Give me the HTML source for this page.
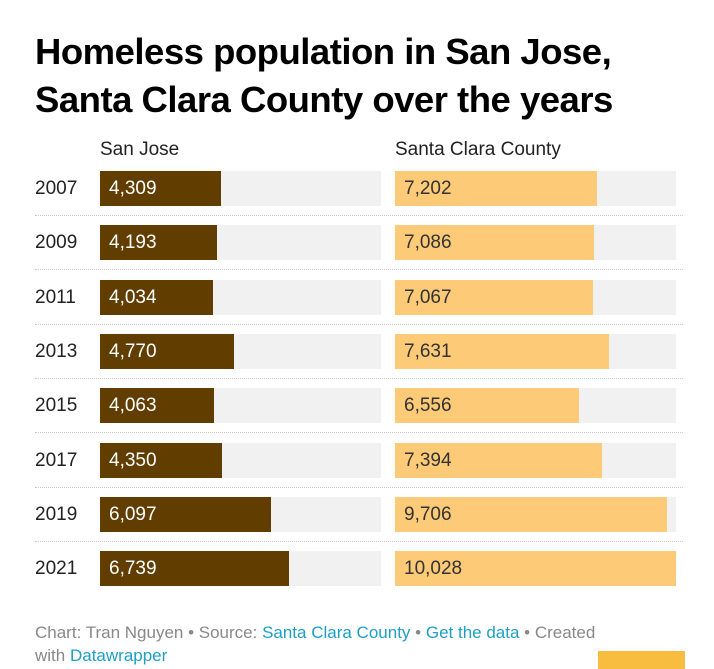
<!DOCTYPE html>
<html><head><meta charset="utf-8"><style>
body{margin:0;width:714px;height:669px;background:#fff;font-family:"Liberation Sans",sans-serif;position:relative;overflow:hidden}
#title{position:absolute;left:35px;top:28px;font-size:36.5px;font-weight:bold;line-height:48px;color:#000;letter-spacing:-0.5px;white-space:nowrap}
.hdr{position:absolute;top:139px;font-size:19px;color:#222}
.yr{position:absolute;left:35px;font-size:19px;color:#222;line-height:35px}
.bg{position:absolute;height:35px;background:#f1f1f1}
.bar{position:absolute;height:35px}
.val{position:absolute;font-size:19px;line-height:35px}
.sep{position:absolute;left:35px;width:648px;border-top:1px dotted #ccc;height:0}
#foot{position:absolute;left:35px;top:621px;font-size:17px;line-height:23px;color:#888;width:595px}
#foot a{color:#1d9fc3;text-decoration:none}
</style></head><body>
<div id="title">Homeless population in San Jose,<br>Santa Clara County over the years</div>
<div class="hdr" style="left:100px">San Jose</div>
<div class="hdr" style="left:395px">Santa Clara County</div>
<div id="chart"></div>
<div id="foot">Chart: Tran Nguyen • Source: <a>Santa Clara County</a> • <a>Get the data</a> • Created with <a>Datawrapper</a></div>
<div style="position:absolute;left:598px;top:651px;width:87px;height:18px;background:#f8bd3e"></div>
<script>
const years=["2007","2009","2011","2013","2015","2017","2019","2021"];
const sanJose=[4309,4193,4034,4770,4063,4350,6097,6739];
const santaClara=[7202,7086,7067,7631,6556,7394,9706,10028];
const maxV=10028, W=281, top0=171, step=54.3;
const c=document.getElementById('chart');
function x(v){return v/maxV*W;}
function add(cls,style,txt){const e=document.createElement('div');e.className=cls;Object.assign(e.style,style);if(txt!==undefined)e.textContent=txt;c.appendChild(e);return e;}
years.forEach((y,i)=>{
  const t=Math.round(top0+i*step);
  const yl=add('yr',{top:t+'px'},y);
  
  
  [[100,sanJose[i],'#613d00','#fff','san-jose'],[395,santaClara[i],'#fdca77','#333','santa-clara']].forEach(([l,v,col,tc,n])=>{
    const bg=add('bg',{left:l+'px',top:t+'px',width:W+'px'});
    
    
    const b=add('bar',{left:l+'px',top:t+'px',width:x(v)+'px',background:col});
    
    
    const lb=add('val',{left:(l+9)+'px',top:t+'px',color:tc},v.toLocaleString('en-US'));
    
    
  });
  if(i<years.length-1){
    const s=add('sep',{top:(t+44)+'px'});
    
    
  }
});
</script>
</body></html>
